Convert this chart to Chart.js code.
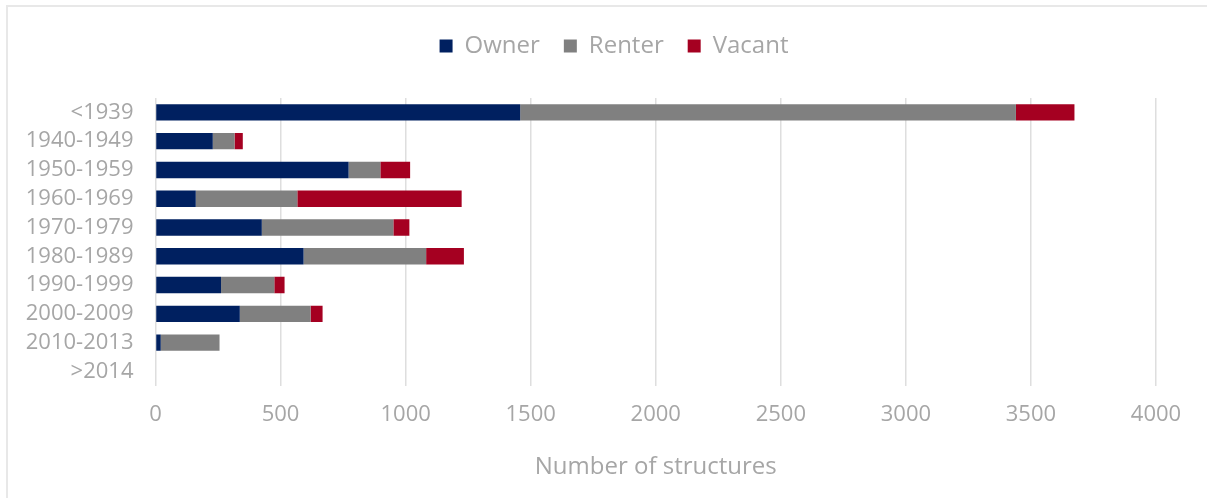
<!DOCTYPE html>
<html>
<head>
<meta charset="utf-8">
<script src="https://cdn.jsdelivr.net/npm/chart.js@4.4.1/dist/chart.umd.min.js"></script>
<style>
  html, body { margin: 0; padding: 0; background: #fff; }
  #wrap { position: relative; width: 1207px; height: 498px; overflow: hidden; }
  #frame { position: absolute; left: 6px; top: 5px; width: 1300px; height: 600px;
           border-left: 2px solid #e8e8e8; border-top: 2px solid #e8e8e8; box-sizing: border-box; }
  canvas { position: absolute; left: 0; top: 0; }
</style>
</head>
<body>
<div id="wrap">
  <div id="frame"></div>
  <canvas id="c" width="1207" height="498"></canvas>
</div>
<script>
const categories = ['<1939','1940-1949','1950-1959','1960-1969','1970-1979','1980-1989','1990-1999','2000-2009','2010-2013','>2014'];
const owner  = [1458, 229, 772, 161, 425, 592, 262, 337, 21, 0];
const renter = [1982,  87, 127, 406, 526, 490, 213, 283, 235, 0];
const vacant = [ 234,  33, 119, 657,  64, 151,  41,  48,   0, 0];
const xTicksMax = 4000;
const xTickStep = 500;
const axisTitle = 'Number of structures';

const FONT = "'Open Sans', 'Noto Sans', sans-serif";
const GREY = '#a6a6a6';

const legendTweak = {
  id: 'legendTweak',
  beforeInit(chart) {
    const origFit = chart.legend.fit;
    chart.legend.fit = function () {
      origFit.bind(chart.legend)();
      this.height = 88;
    };
  },
  afterLayout(chart) {
    const lg = chart.legend;
    if (lg) { lg.left += 36; lg.right += 36; }
  }
};

new Chart(document.getElementById('c'), {
  type: 'bar',
  data: {
    labels: categories,
    datasets: [
      { label: 'Owner',  data: owner,  backgroundColor: '#002060' },
      { label: 'Renter', data: renter, backgroundColor: '#808080' },
      { label: 'Vacant', data: vacant, backgroundColor: '#a50021' }
    ]
  },
  plugins: [legendTweak],
  options: {
    indexAxis: 'y',
    responsive: false,
    animation: false,
    maintainAspectRatio: false,
    layout: { padding: { left: 0, right: 51, top: 10, bottom: 16 } },
    datasets: { bar: { barPercentage: 0.57, categoryPercentage: 1.0 } },
    plugins: {
      tooltip: { enabled: false },
      legend: {
        position: 'top',
        align: 'center',
        labels: {
          font: { family: FONT, size: 24 },
          color: GREY,
          boxWidth: 13,
          boxHeight: 13,
          padding: 24
        }
      }
    },
    scales: {
      x: {
        stacked: true,
        min: 0,
        max: xTicksMax,
        ticks: {
          stepSize: xTickStep,
          color: GREY,
          font: { family: FONT, size: 22, lineHeight: 1.2 },
          padding: 16,
          callback: (v) => String(v)
        },
        grid: { color: '#dedede', lineWidth: 1.5, drawTicks: false },
        border: { display: false },
        title: {
          display: true,
          text: axisTitle,
          color: GREY,
          font: { family: FONT, size: 24, lineHeight: 1.2 },
          padding: { top: 9, bottom: 0 }
        }
      },
      y: {
        stacked: true,
        ticks: {
          color: GREY,
          font: { family: FONT, size: 22 },
          padding: 22,
          autoSkip: false
        },
        grid: { display: false, drawTicks: false },
        border: { display: false },
        afterFit(scale) { scale.width = 155.5; }
      }
    }
  }
});
</script>
</body>
</html>
